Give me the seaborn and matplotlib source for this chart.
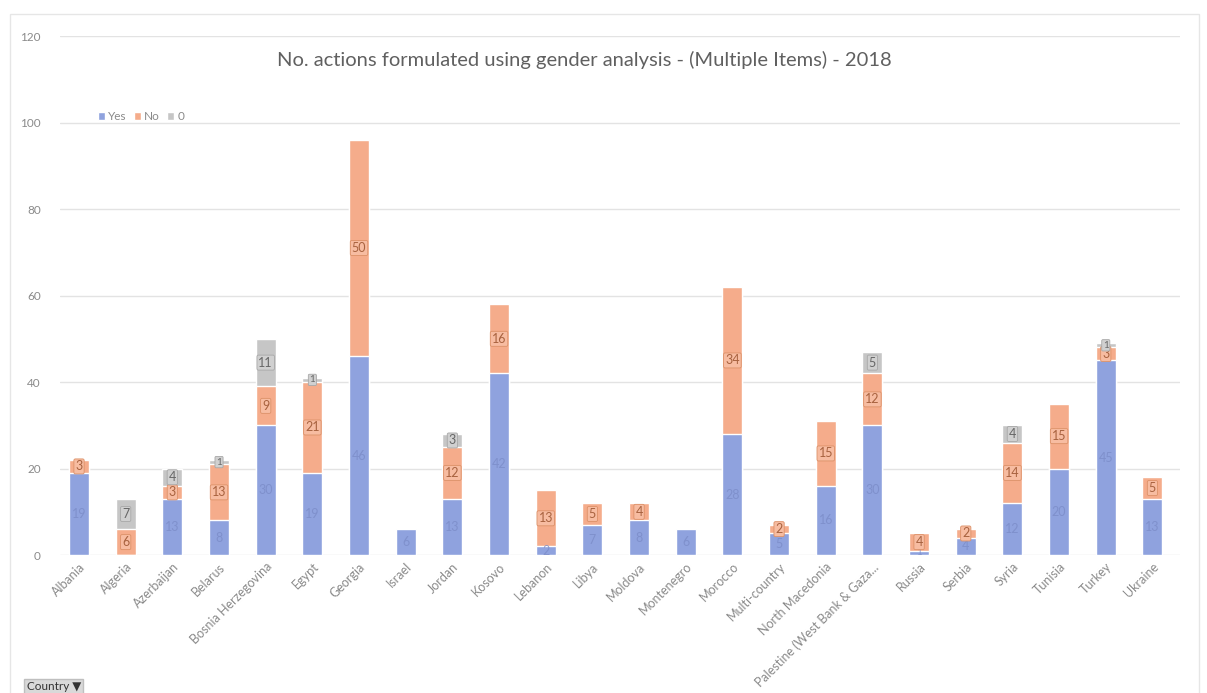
import numpy as np
import pandas as pd
import seaborn as sns
import matplotlib.pyplot as plt
from matplotlib.patches import Rectangle

# === 1. Data ===
countries = ["Albania", "Algeria", "Azerbaijan", "Belarus", "Bosnia Herzegovina", "Egypt",
             "Georgia", "Israel", "Jordan", "Kosovo", "Lebanon", "Libya", "Moldova",
             "Montenegro", "Morocco", "Multi-country", "North Macedonia",
             "Palestine (West Bank & Gaza...", "Russia", "Serbia", "Syria", "Tunisia",
             "Turkey", "Ukraine"]
yes_vals = [19, 0, 13, 8, 30, 19, 46, 6, 13, 42, 2, 7, 8, 6, 28, 5, 16, 30, 1, 4, 12, 20, 45, 13]
no_vals = [3, 6, 3, 13, 9, 21, 50, 0, 12, 16, 13, 5, 4, 0, 34, 2, 15, 12, 4, 2, 14, 15, 3, 5]
zero_vals = [0, 7, 4, 1, 11, 1, 0, 0, 3, 0, 0, 0, 0, 0, 0, 0, 0, 5, 0, 0, 4, 0, 1, 0]

df = pd.DataFrame({"Country": countries, "Yes": yes_vals, "No": no_vals, "0": zero_vals})
df["YesNo"] = df["Yes"] + df["No"]
df["Total"] = df["YesNo"] + df["0"]

c_yes, c_no, c_zero = "#8fa2de", "#f5ac8b", "#c6c6c6"

# === 2. Figure ===
sns.set_style("white")
plt.rcParams["font.family"] = ["Lato", "DejaVu Sans"]

fig = plt.figure(figsize=(12.07, 6.93), dpi=100)
ax = fig.add_axes([0.05, 0.199, 0.928, 0.749])

# stacked bars by overlaying cumulative totals
kw = dict(width=0.43, saturation=1, ax=ax)
sns.barplot(data=df, x="Country", y="Total", color=c_zero, label="0", **kw)
sns.barplot(data=df, x="Country", y="YesNo", color=c_no, label="No", **kw)
sns.barplot(data=df, x="Country", y="Yes", color=c_yes, label="Yes", **kw)
if ax.get_legend() is not None:
    ax.get_legend().remove()

# === 3. Segment labels ===
def fs(v):
    # thin segments get tiny labels, like the reference
    return 7 if v <= 1 else 9

for i, row in df.iterrows():
    if row["Yes"] > 0:
        ax.text(i, row["Yes"] / 2, str(row["Yes"]), ha="center", va="center",
                fontsize=fs(row["Yes"]), color="#7b8cc8", alpha=0.8)
    if row["No"] > 0:
        ax.text(i, row["Yes"] + row["No"] / 2, str(row["No"]), ha="center", va="center",
                fontsize=fs(row["No"]), color="#a8623f",
                bbox=dict(boxstyle="round,pad=0.12", fc="#f7bca1", ec="#dc9168", lw=0.6))
    if row["0"] > 0:
        ax.text(i, row["YesNo"] + row["0"] / 2, str(row["0"]), ha="center", va="center",
                fontsize=fs(row["0"]), color="#666666",
                bbox=dict(boxstyle="round,pad=0.12", fc="#d0d0d0", ec="#a8a8a8", lw=0.6))

# === 4. Customize ===
ax.set_ylim(0, 120)
ax.set_xlim(-0.4, 23.6)
ax.set_yticks(range(0, 121, 20))
ax.yaxis.grid(True, color="#e3e3e3", lw=1)
ax.set_axisbelow(True)
sns.despine(ax=ax, left=True, bottom=True)
ax.set_xlabel("")
ax.set_ylabel("")
ax.tick_params(axis="y", colors="#8a8a8a", labelsize=8.5, length=0, pad=14)
ax.tick_params(axis="x", colors="#8a8a8a", labelsize=9, length=0, pad=4)
plt.setp(ax.get_xticklabels(), rotation=45, ha="right", rotation_mode="anchor")

ax.text(0.468, 0.953, "No. actions formulated using gender analysis - (Multiple Items) - 2018",
        transform=ax.transAxes, ha="center", va="center", fontsize=14.5, color="#606060")

handles, labels = ax.get_legend_handles_labels()
order = [labels.index("Yes"), labels.index("No"), labels.index("0")]
fig.legend([handles[k] for k in order], [labels[k] for k in order],
           loc="upper left", bbox_to_anchor=(0.072, 0.855), ncol=3, frameon=False,
           fontsize=8.5, handlelength=0.6, handleheight=0.6, handletextpad=0.3,
           columnspacing=0.6, labelcolor="#8a8a8a")

# chart frame and pivot button
fig.patches.append(Rectangle((0.008, -0.01), 0.985, 0.99, transform=fig.transFigure,
                             fill=False, ec="#e6e6e6", lw=1))
fig.text(0.022, 0.004, "Country ▼", fontsize=8.5, color="#333333",
         bbox=dict(boxstyle="square,pad=0.2", fc="#d9d9d9", ec="#bfbfbf"))

# === 5. Save ===
plt.savefig("out.png", dpi=100)
